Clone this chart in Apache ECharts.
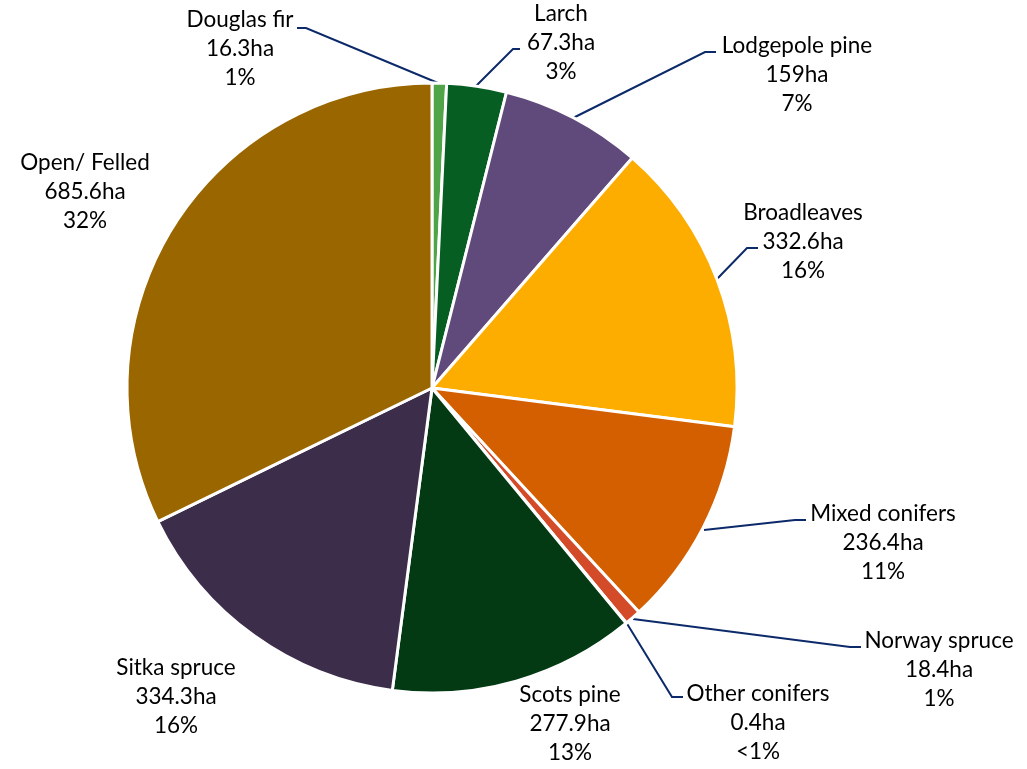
<!DOCTYPE html>
<html>
<head>
<meta charset="utf-8">
<script src="https://cdn.jsdelivr.net/npm/echarts@6/dist/echarts.min.js"></script>
<style>
	html, body { margin: 0; padding: 0; background: #fff; }
	#main { width: 1027px; height: 769px; }
</style>
</head>
<body>
<div id="main"></div>
<script>
	// 数据
	var names = ['Douglas fir', 'Larch', 'Lodgepole pine', 'Broadleaves', 'Mixed conifers',
		'Norway spruce', 'Other conifers', 'Scots pine', 'Sitka spruce', 'Open/ Felled'];
	var areas = [16.3, 67.3, 159, 332.6, 236.4, 18.4, 0.4, 277.9, 334.3, 685.6];
	var colors = ['#4ea447', '#075e22', '#604a7b', '#fdad00', '#d45f00',
		'#d34b28', '#8a8a8a', '#033a13', '#3c2d4b', '#996600'];

	// label placement (centre of first text line) and leader lines
	var labelPos = [
		[240, 20], [561, 14], [797, 46], [803, 213], [883, 514],
		[939, 641], [758, 694], [570, 695], [176, 668], [85, 163]
	];
	var leaders = [
		[[438, 83], [306, 28], [297, 28]],
		[[476, 86], [513, 49], [520, 49]],
		[[573, 118], [705, 52], [716, 52]],
		[[717, 279], [747, 248], [758, 248]],
		[[704, 530], [795, 520], [806, 520]],
		[[633, 619], [850, 647], [861, 647]],
		[[626, 622], [672, 697], [683, 697]],
		null, null, null
	];

	var total = areas.reduce(function (a, b) { return a + b; }, 0);

	var myChart = echarts.init(document.getElementById('main'));
	var seriesData = names.map(function (n, i) {
		return {
			name: n,
			value: areas[i],
			itemStyle: { color: colors[i] },
			labelLine: { show: !!leaders[i] }
		};
	});

	var option = {
		animation: false,
		series: [{
			type: 'pie',
			center: [432, 388],
			radius: [0, 305],
			startAngle: 90,
			clockwise: true,
			avoidLabelOverlap: false,
			itemStyle: { borderColor: '#ffffff', borderWidth: 3 },
			label: {
				show: true,
				position: 'outside',
				fontFamily: 'Lato',
				fontSize: 22.5,
				lineHeight: 29,
				color: '#000000',
				align: 'center',
				formatter: function (p) {
					var pct = Math.round(p.value / total * 100);
					var pctText = pct < 1 ? '<1%' : pct + '%';
					return p.name + '\n' + p.value + 'ha\n' + pctText;
				}
			},
			labelLine: {
				show: true,
				lineStyle: { color: '#0c2a6a', width: 2 }
			},
			labelLayout: function (params) {
				var i = params.dataIndex;
				var out = {
					x: labelPos[i][0],
					y: labelPos[i][1] - 14.5,
					align: 'center',
					verticalAlign: 'top'
				};
				if (leaders[i]) {
					out.labelLinePoints = leaders[i];
				}
				return out;
			},
			data: seriesData
		}]
	};
	myChart.setOption(option);
</script>
</body>
</html>
